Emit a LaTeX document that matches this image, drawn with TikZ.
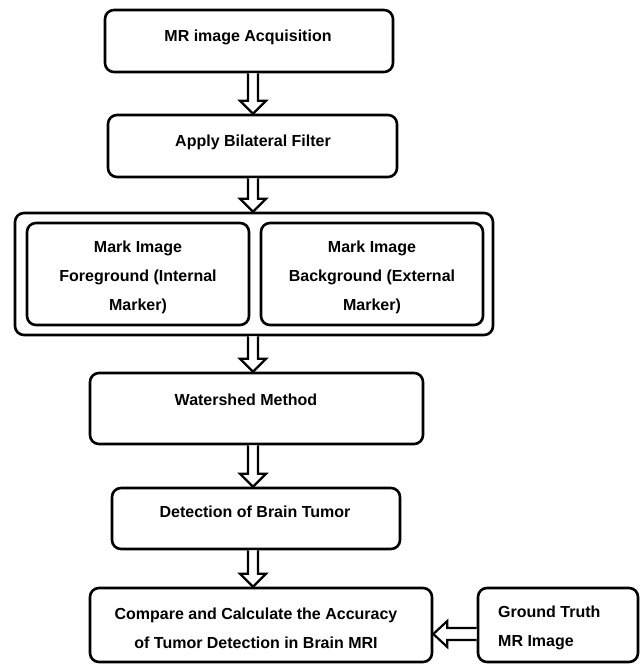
\documentclass[tikz,border=0pt]{standalone}
\usepackage{fontspec}
\setmainfont{Liberation Sans}
\usetikzlibrary{calc}
\tikzset{
  box/.style={draw, line width=2.6pt, rounded corners=9pt, inner sep=0pt, fill=white},
  lbl/.style={font=\fontsize{16}{29}\selectfont\bfseries, align=center, inner sep=0pt},
  blk/.style={draw, line width=2.2pt, fill=white, line join=miter},
}
\newcommand{\vblock}[2]{\draw[blk] let \p1=#1, \p2=#2 in (\x1-5pt,\y1) -- (\x1-5pt,\y2+13pt) -- (\x1-13pt,\y2+13pt) -- (\x1,\y2) -- (\x1+13pt,\y2+13pt) -- (\x1+5pt,\y2+13pt) -- (\x1+5pt,\y1);}
\newcommand{\hblock}[2]{\draw[blk] let \p1=#1, \p2=#2 in (\x1,\y1-6pt) -- (\x2+14pt,\y1-6pt) -- (\x2+14pt,\y1-13pt) -- (\x2,\y1) -- (\x2+14pt,\y1+13pt) -- (\x2+14pt,\y1+6pt) -- (\x1,\y1+6pt);}
\begin{document}
\begin{tikzpicture}[x=1pt,y=-1pt]
\useasboundingbox (0,0) rectangle (642,664);
% boxes
\node[box, minimum width=288, minimum height=62] (b1) at (249,41) {};
\node[box, minimum width=289, minimum height=62] (b2) at (252.5,146) {};
\node[box, minimum width=478, minimum height=122] (outer) at (254,274) {};
\node[box, minimum width=222, minimum height=102] (inL) at (138,274) {};
\node[box, minimum width=222, minimum height=102] (inR) at (372,274) {};
\node[box, minimum width=333, minimum height=71] (ws) at (256.5,408.5) {};
\node[box, minimum width=288, minimum height=61] (det) at (256,518.5) {};
\node[box, minimum width=342, minimum height=74] (cmp) at (261,625) {};
\node[box, minimum width=160, minimum height=74] (gt) at (558,625) {};
% texts
\node[lbl] (t1) at (248,37) {MR image Acquisition};
\node[lbl] (t2) at (253,142) {Apply Bilateral Filter};
\node[lbl] (tL) at (138,277) {Mark Image\\Foreground (Internal\\Marker)};
\node[lbl] (tR) at (372,277) {Mark Image\\Background (External\\Marker)};
\node[lbl] (tw) at (246,400) {Watershed Method};
\node[lbl] (td) at (255,512) {Detection of Brain Tumor};
\node[lbl] (tc) at (256,628) {Compare and Calculate the Accuracy\\of Tumor Detection in Brain MRI};
\node[lbl, align=left, anchor=west] (tg) at (498,628) {Ground Truth\\MR Image};
% arrows
\coordinate (col) at (253,0);
\coordinate (hrow) at (0,634);
\vblock{(b1.south -| col)}{(b2.north -| col)}
\vblock{(b2.south -| col)}{(outer.north -| col)}
\vblock{(outer.south -| col)}{(ws.north -| col)}
\vblock{(ws.south -| col)}{(det.north -| col)}
\vblock{(det.south -| col)}{(cmp.north -| col)}
\hblock{(gt.west |- hrow)}{(cmp.east |- hrow)}
\end{tikzpicture}
\end{document}
